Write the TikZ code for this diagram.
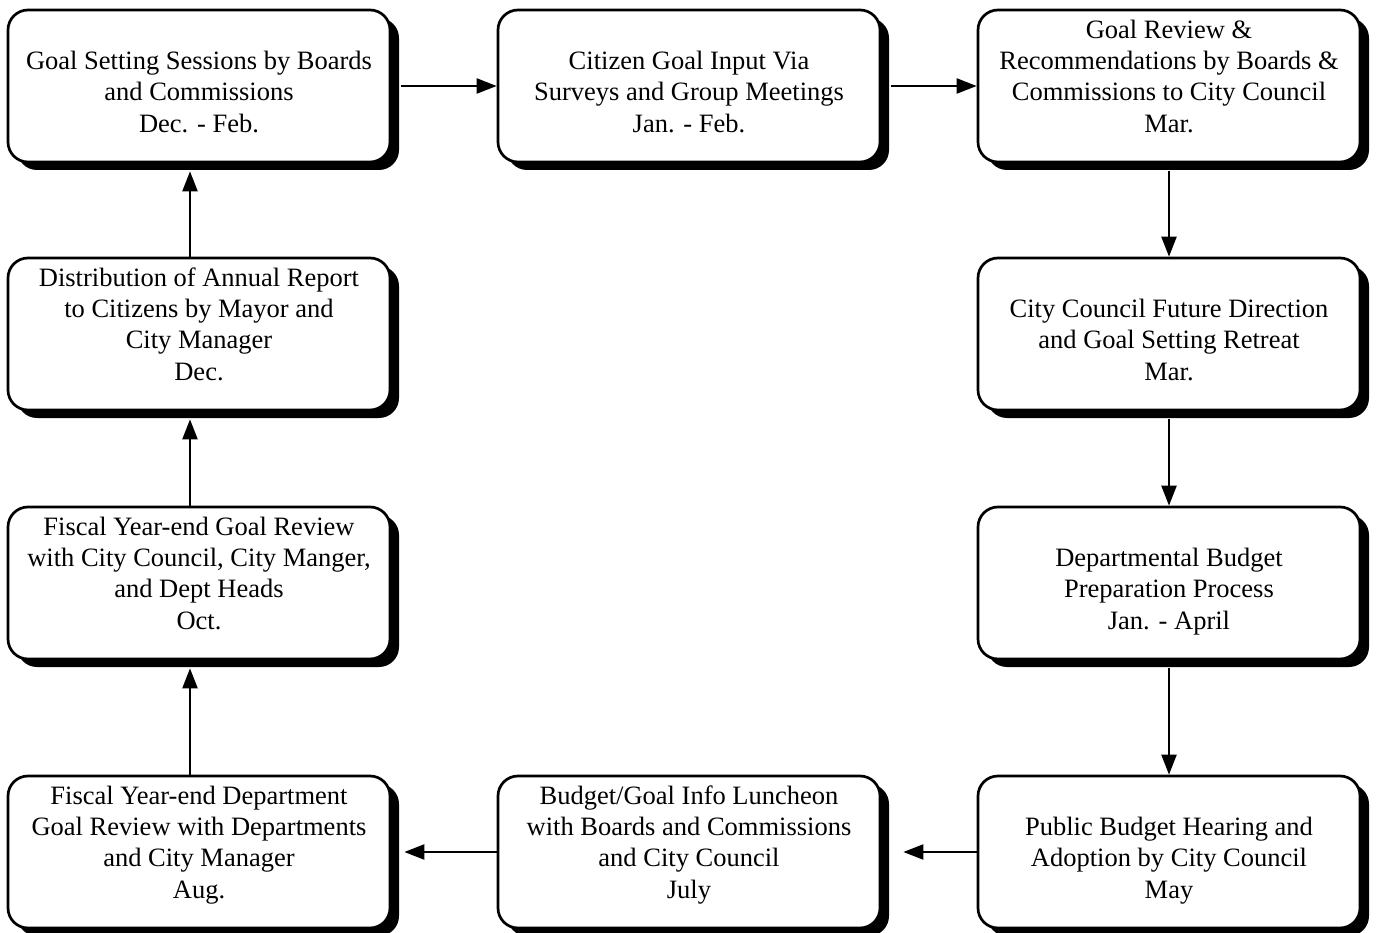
\documentclass[tikz,border=0pt]{standalone}
\usepackage{fontspec}
\setmainfont{Liberation Serif}
\usetikzlibrary{arrows.meta,shadows}
\tikzset{
  stagebox/.style={draw, line width=2.7pt, rounded corners=20pt, fill=white,
    minimum width=382pt, minimum height=152pt, inner sep=0pt,
    drop shadow={shadow xshift=9pt, shadow yshift=-8pt, fill=black, opacity=1}},
  stagetext/.style={anchor=south, align=center, inner sep=0pt, text depth=0pt,
    font=\fontsize{26.5}{31.2}\selectfont},
  flow/.style={line width=2.3pt, -{Triangle[length=20pt,width=15pt]}}
}
\begin{document}
\begin{tikzpicture}[x=1pt,y=-1pt]
\useasboundingbox (0,0) rectangle (1377,933);
% boxes
\node[stagebox] (b1) at (199,86) {};
\node[stagebox] (b2) at (689,86) {};
\node[stagebox] (b3) at (1169,86) {};
\node[stagebox] (b4) at (1169,334) {};
\node[stagebox] (b5) at (1169,583) {};
\node[stagebox] (b6) at (1169,852) {};
\node[stagebox] (b7) at (689,852) {};
\node[stagebox] (b8) at (199,852) {};
\node[stagebox] (b9) at (199,583) {};
\node[stagebox] (b10) at (199,334) {};
% texts
\node[stagetext] (t1) at ([yshift=31pt]b1.south) {Goal Setting Sessions by Boards\\and Commissions\\Dec. - Feb.};
\node[stagetext] (t2) at ([yshift=31pt]b2.south) {Citizen Goal Input Via\\Surveys and Group Meetings\\Jan. - Feb.};
\node[stagetext] (t3) at ([yshift=31pt]b3.south) {Goal Review \&\\Recommendations by Boards \&\\Commissions to City Council\\Mar.};
\node[stagetext] (t4) at ([yshift=31pt]b4.south) {City Council Future Direction\\and Goal Setting Retreat\\Mar.};
\node[stagetext] (t5) at ([yshift=31pt]b5.south) {Departmental Budget\\Preparation Process\\Jan. - April};
\node[stagetext] (t6) at ([yshift=31pt]b6.south) {Public Budget Hearing and\\Adoption by City Council\\May};
\node[stagetext] (t7) at ([yshift=31pt]b7.south) {Budget/Goal Info Luncheon\\with Boards and Commissions\\and City Council\\July};
\node[stagetext] (t8) at ([yshift=31pt]b8.south) {Fiscal Year-end Department\\Goal Review with Departments\\and City Manager\\Aug.};
\node[stagetext] (t9) at ([yshift=31pt]b9.south) {Fiscal Year-end Goal Review\\with City Council, City Manger,\\and Dept Heads\\Oct.};
\node[stagetext] (t10) at ([yshift=31pt]b10.south) {Distribution of Annual Report\\to Citizens by Mayor and\\City Manager\\Dec.};
% connectors
\draw[flow] ([xshift=10pt]b1.east) -- (b2.west);
\draw[flow] ([xshift=10pt]b2.east) -- (b3.west);
\draw[flow] ([yshift=-8pt]b3.south) -- (b4.north);
\draw[flow] ([yshift=-8pt]b4.south) -- (b5.north);
\draw[flow] ([yshift=-8pt]b5.south) -- (b6.north);
\draw[flow] (b6.west) -- ([xshift=22pt]b7.east);
\draw[flow] (b7.west) -- ([xshift=13pt]b8.east);
\draw[flow] ([xshift=-9pt]b8.north) -- ([xshift=-9pt,yshift=-8pt]b9.south);
\draw[flow] ([xshift=-9pt]b9.north) -- ([xshift=-9pt,yshift=-8pt]b10.south);
\draw[flow] ([xshift=-9pt]b10.north) -- ([xshift=-9pt,yshift=-8pt]b1.south);
\end{tikzpicture}
\end{document}
